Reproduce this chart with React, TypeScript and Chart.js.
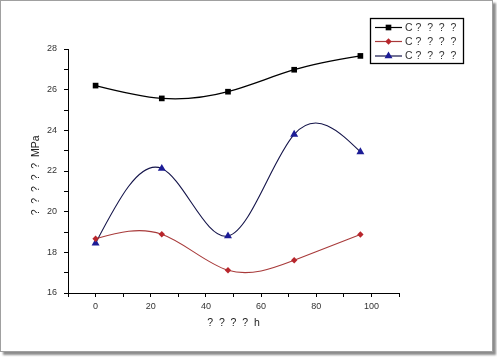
import React, { useEffect, useRef } from "react";
import { Chart, registerables } from "chart.js";

Chart.register(...registerables);

// ---- data ----
const hours = [0, 24, 48, 72, 96];
const seriesNames = ["C ?  ?  ?  ?", "C ?  ?  ?  ?", "C ?  ?  ?  ?"];
const blackValues = [26.2, 25.57, 25.9, 26.98, 27.66];
const redValues = [18.67, 18.89, 17.12, 17.61, 18.88];
const blueValues = [18.45, 22.12, 18.8, 23.8, 22.94];
const xTickLabels = [0, 20, 40, 60, 80, 100];
const yTickLabels = [16, 18, 20, 22, 24, 26, 28];
const xTitle = "?  ?  ?  ?  h";
const yTitle = "?  ?  ?  ?  ?  MPa   ";

const FONT = "'Liberation Sans', Arial, sans-serif";

function naturalSpline(pts: any[]) {
  const n = pts.length;
  if (n < 3) return;
  const x = pts.map((p) => p.x);
  const y = pts.map((p) => p.y);
  const h: number[] = [];
  for (let i = 0; i < n - 1; i++) h.push(x[i + 1] - x[i]);
  const M = new Array(n).fill(0);
  const a: number[] = [], b: number[] = [], c: number[] = [], d: number[] = [];
  for (let i = 1; i < n - 1; i++) {
    a.push(h[i - 1]);
    b.push(2 * (h[i - 1] + h[i]));
    c.push(h[i]);
    d.push(6 * ((y[i + 1] - y[i]) / h[i] - (y[i] - y[i - 1]) / h[i - 1]));
  }
  const m = b.length;
  for (let i = 1; i < m; i++) {
    const w = a[i] / b[i - 1];
    b[i] -= w * c[i - 1];
    d[i] -= w * d[i - 1];
  }
  const sol = new Array(m).fill(0);
  sol[m - 1] = d[m - 1] / b[m - 1];
  for (let i = m - 2; i >= 0; i--) sol[i] = (d[i] - c[i] * sol[i + 1]) / b[i];
  for (let i = 0; i < m; i++) M[i + 1] = sol[i];
  pts[0].cp1x = pts[0].x;
  pts[0].cp1y = pts[0].y;
  pts[n - 1].cp2x = pts[n - 1].x;
  pts[n - 1].cp2y = pts[n - 1].y;
  for (let i = 0; i < n - 1; i++) {
    const hi = h[i];
    const s = (y[i + 1] - y[i]) / hi;
    const d0 = s - (hi * (2 * M[i] + M[i + 1])) / 6;
    const d1 = s + (hi * (M[i] + 2 * M[i + 1])) / 6;
    pts[i].cp2x = x[i] + hi / 3;
    pts[i].cp2y = y[i] + (d0 * hi) / 3;
    pts[i + 1].cp1x = x[i + 1] - hi / 3;
    pts[i + 1].cp1y = y[i + 1] - (d1 * hi) / 3;
  }
}

const splinePlugin = {
  id: "naturalSpline",
  beforeDatasetDraw(chart: any, args: any) {
    const meta = args.meta;
    const line = meta.dataset;
    if (!line) return;
    line.updateControlPoints(chart.chartArea, meta.iScale.axis);
    naturalSpline(meta.data);
    line._path = undefined;
  },
};

function drawMarker(ctx: CanvasRenderingContext2D, style: string, x: number, y: number, r: number) {
  ctx.beginPath();
  if (style === "rect") {
    const s = Math.SQRT1_2 * r;
    ctx.rect(x - s, y - s, 2 * s, 2 * s);
  } else if (style === "rectRot") {
    ctx.moveTo(x, y - r);
    ctx.lineTo(x + r, y);
    ctx.lineTo(x, y + r);
    ctx.lineTo(x - r, y);
    ctx.closePath();
  } else {
    ctx.moveTo(x, y - r);
    ctx.lineTo(x + r * Math.sin(Math.PI / 3), y + r * 0.5);
    ctx.lineTo(x - r * Math.sin(Math.PI / 3), y + r * 0.5);
    ctx.closePath();
  }
  ctx.fill();
}

const legendPlugin = {
  id: "boxLegend",
  afterDraw(chart: any) {
    const ctx = chart.ctx as CanvasRenderingContext2D;
    ctx.save();
    ctx.strokeStyle = "#000";
    ctx.lineWidth = 1.3;
    ctx.strokeRect(370.5, 18.5, 93, 45);
    const rows = [27.5, 41.5, 56];
    chart.data.datasets.forEach((ds: any, i: number) => {
      const y = rows[i];
      ctx.strokeStyle = ds.borderColor;
      ctx.lineWidth = 1.2;
      ctx.beginPath();
      ctx.moveTo(375, y);
      ctx.lineTo(402, y);
      ctx.stroke();
      ctx.fillStyle = ds.pointBackgroundColor;
      drawMarker(ctx, ds.pointStyle, 388.5, y, ds.pointRadius);
      ctx.fillStyle = "#333";
      ctx.font = `10.5px ${FONT}`;
      ctx.textBaseline = "middle";
      ctx.textAlign = "left";
      ctx.fillText(ds.label, 405, y + 0.5);
    });
    ctx.restore();
  },
};

export default function App() {
  const ref = useRef<HTMLCanvasElement>(null);
  useEffect(() => {
    if (!ref.current) return;
    const mk = (vals: number[]) => hours.map((h, i) => ({ x: h, y: vals[i] }));
    const chart = new Chart(ref.current, {
      type: "line",
      data: {
        datasets: [
          {
            label: seriesNames[0],
            data: mk(blackValues),
            borderColor: "#000000",
            borderWidth: 1.3,
            pointStyle: "rect",
            pointRadius: 4,
            pointBackgroundColor: "#000000",
            pointBorderColor: "#000000",
            pointBorderWidth: 0,
            tension: 0.4,
          },
          {
            label: seriesNames[1],
            data: mk(redValues),
            borderColor: "#a83a3a",
            borderWidth: 1.1,
            pointStyle: "rectRot",
            pointRadius: 3.2,
            pointBackgroundColor: "#b8262c",
            pointBorderColor: "#b8262c",
            pointBorderWidth: 0,
            tension: 0.4,
          },
          {
            label: seriesNames[2],
            data: mk(blueValues),
            borderColor: "#14144a",
            borderWidth: 1.1,
            pointStyle: "triangle",
            pointRadius: 4.6,
            pointBackgroundColor: "#1c1c96",
            pointBorderColor: "#1c1c96",
            pointBorderWidth: 0,
            tension: 0.4,
          },
        ] as any,
      },
      options: {
        responsive: false,
        animation: false,
        layout: { padding: { left: 0, top: 49, right: 98, bottom: 0 } },
        plugins: { legend: { display: false }, tooltip: { enabled: false } },
        scales: {
          x: {
            type: "linear",
            min: -10,
            max: 110,
            afterFit: (s: any) => {
              s.height = 65;
            },
            ticks: {
              stepSize: 10,
              autoSkip: false,
              maxRotation: 0,
              padding: 4,
              color: "#333",
              font: { family: FONT, size: 9 },
              callback: (v: any) => (xTickLabels.includes(Number(v)) ? String(v) : ""),
            },
            grid: { drawOnChartArea: false, drawTicks: true, tickLength: 4, color: "#000", lineWidth: 1 },
            border: { display: true, color: "#000", width: 1 },
            title: {
              display: true,
              text: xTitle,
              color: "#222",
              font: { family: FONT, size: 10.5 },
              padding: { top: 0, bottom: 29 },
            },
          },
          y: {
            type: "linear",
            min: 16,
            max: 28,
            afterFit: (s: any) => {
              s.width = 68;
            },
            ticks: {
              stepSize: 1,
              autoSkip: false,
              padding: 7,
              color: "#333",
              font: { family: FONT, size: 9 },
              callback: (v: any) => (yTickLabels.includes(Number(v)) ? String(v) : ""),
            },
            grid: { drawOnChartArea: false, drawTicks: true, tickLength: 4, color: "#000", lineWidth: 1 },
            border: { display: true, color: "#000", width: 1 },
            title: {
              display: true,
              text: yTitle,
              color: "#222",
              font: { family: FONT, size: 10.5 },
              padding: { top: 30, bottom: 0 },
            },
          },
        },
      } as any,
      plugins: [splinePlugin, legendPlugin],
    });
    return () => chart.destroy();
  }, []);

  return (
    <div style={{ position: "fixed", left: 0, top: 0, width: 497, height: 358, background: "#fff" }}>
      <div
        style={{
          position: "absolute",
          left: 0,
          top: 0,
          width: 493,
          height: 352,
          boxSizing: "border-box",
          border: "1px solid #a0a0a0",
          boxShadow: "3px 3px 2px rgba(0,0,0,0.45)",
          background: "#fff",
        }}
      />
      <canvas
        ref={ref}
        width={497}
        height={358}
        style={{ position: "absolute", left: 0, top: 0, display: "block" }}
      />
    </div>
  );
}
